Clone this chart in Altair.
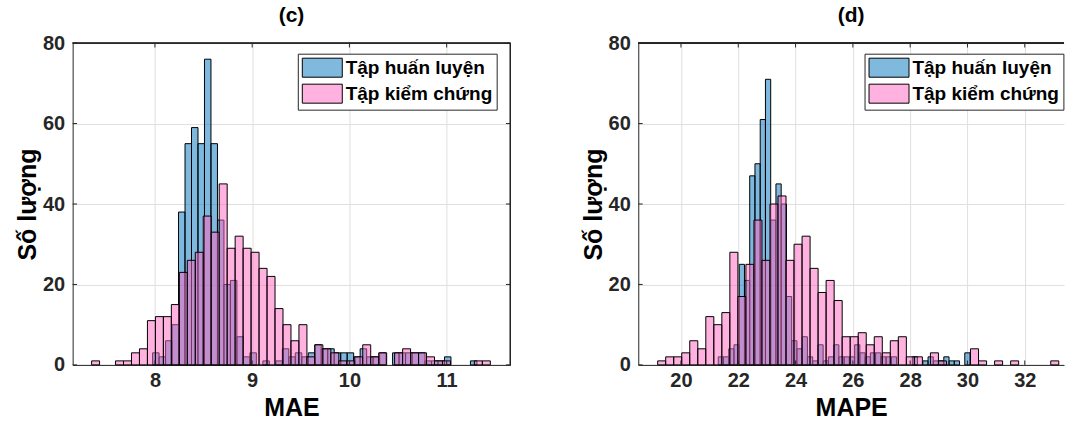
import altair as alt
import pandas as pd

# ---- MAE histograms (50 bins each) ----
mae_train_start = 7.976
mae_train_width = 0.0667
mae_train_counts = [3, 2, 6, 10, 38, 55, 59, 55, 76, 55,
                    36, 20, 21, 7, 2, 3, 0, 1, 0, 1,
                    4, 2, 3, 2, 3, 5, 4, 4, 3, 3,
                    3, 2, 4, 2, 2, 3, 0, 3, 3, 3,
                    3, 3, 1, 1, 1, 2, 0, 0, 0, 1]

mae_test_start = 7.349
mae_test_width = 0.082
mae_test_counts = [1, 0, 0, 1, 1, 3, 4, 11, 12, 12,
                   15, 23, 26, 28, 37, 33, 45, 29, 32, 29,
                   28, 24, 22, 14, 10, 6, 10, 2, 5, 4,
                   3, 1, 1, 2, 5, 2, 3, 0, 3, 4,
                   3, 3, 2, 1, 1, 0, 0, 0, 1, 1]

# ---- MAPE histograms ----
mape_train_start = 21.301
mape_train_width = 0.1831
mape_train_counts = [2, 2, 4, 5, 25, 21, 47, 50, 61, 71,
                     36, 45, 40, 17, 6, 4, 7, 2, 1, 5,
                     1, 2, 5, 2, 2, 2, 5, 3, 2, 3,
                     3, 2, 2, 2, 0, 0, 0, 2, 0, 1,
                     2, 1, 1, 2, 1, 1, 0, 3]

mape_test_start = 19.187
mape_test_width = 0.28
mape_test_counts = [1, 2, 2, 3, 6, 4, 12, 10, 13, 28,
                    17, 25, 36, 26, 40, 42, 26, 30, 32, 24,
                    18, 21, 16, 7, 7, 8, 5, 7, 3, 6,
                    7, 2, 2, 0, 3, 1, 0, 0, 0, 4,
                    1, 0, 1, 0, 1, 0, 0, 0, 0, 1]

series_names = ["Tập huấn luyện", "Tập kiểm chứng"]
# face colours (drawn at 50 % alpha) and the same colours flattened on white
series_colors = ["#0072BD", "#FF65C0"]
legend_colors = ["#80B9DE", "#FFB2E0"]

y_ticks = [0, 20, 40, 60, 80]
mae_ticks = [8, 9, 10, 11]
mape_ticks = [20, 22, 24, 26, 28, 30, 32]

FONT = "Liberation Sans"
EDGE = "#262626"
PLOT_H = 322
TICK_LEN = 4.4


def bins_frame(start, width, counts, name):
    rows = []
    for i, c in enumerate(counts):
        if c <= 0:
            continue
        lo = start + i * width
        rows.append({"x0": lo, "x1": lo + width, "count": c, "series": name})
    return pd.DataFrame(rows)


def panel(train, test, domain, ticks, xtitle, title, width, legend_x, right_edge):
    xscale = alt.Scale(domain=domain, nice=False, zero=False)
    yscale = alt.Scale(domain=[0, 80], nice=False)
    fill_scale = alt.Scale(domain=series_names, range=series_colors)

    x_enc = alt.X("x0:Q", scale=xscale,
                  axis=alt.Axis(values=ticks, title=xtitle, format="d"))
    y_enc = alt.Y("count:Q", scale=yscale,
                  axis=alt.Axis(values=y_ticks, title="Số lượng"))

    legend = alt.Legend(
        title=None, orient="none", legendX=legend_x, legendY=10.6,
        symbolType="M-2.105,-1H2.105V1H-2.105Z", symbolSize=361,
        symbolOffset=10.5, symbolStrokeColor="black", symbolStrokeWidth=1,
        labelFont=FONT, labelFontSize=19, labelFontWeight="bold",
        labelColor="black", labelOffset=13.4, labelLimit=400,
        rowPadding=2, padding=4, fillColor="white",
        strokeColor=EDGE, cornerRadius=0,
    )

    train_bars = alt.Chart(train).mark_rect(
        stroke="black", strokeWidth=1, fillOpacity=0.5
    ).encode(
        x=x_enc, x2="x1:Q", y=y_enc, y2=alt.datum(0),
        fill=alt.Fill("series:N", scale=fill_scale, legend=None),
    )
    test_bars = alt.Chart(test).mark_rect(
        stroke="black", strokeWidth=1, fillOpacity=0.5
    ).encode(
        x="x0:Q", x2="x1:Q", y="count:Q", y2=alt.datum(0),
        fill=alt.Fill("series:N", scale=fill_scale, legend=None),
    )

    # legend entries only: zero-size rects carrying the flattened colours
    key = alt.Chart(pd.DataFrame({"series": series_names})).mark_rect(
        strokeWidth=0
    ).encode(
        x=alt.value(0), x2=alt.value(0), y=alt.value(0), y2=alt.value(0),
        fill=alt.Fill("series:N",
                      scale=alt.Scale(domain=series_names, range=legend_colors),
                      legend=legend),
    )

    xt = pd.DataFrame({"v": ticks})
    yt = pd.DataFrame({"v": y_ticks})
    tick_bottom = alt.Chart(xt).mark_rule(color=EDGE).encode(
        x="v:Q", y=alt.value(PLOT_H), y2=alt.value(PLOT_H - TICK_LEN))
    tick_top = alt.Chart(xt).mark_rule(color=EDGE).encode(
        x="v:Q", y=alt.value(0), y2=alt.value(TICK_LEN))
    tick_left = alt.Chart(yt).mark_rule(color=EDGE).encode(
        y="v:Q", x=alt.value(0), x2=alt.value(TICK_LEN))
    top_line = alt.Chart(xt).mark_rule(color=EDGE).encode(
        x=alt.value(0), x2=alt.value(width), y=alt.value(0))

    layers = [train_bars, test_bars, tick_bottom, tick_top, tick_left, top_line]
    if right_edge:
        tick_right = alt.Chart(yt).mark_rule(color=EDGE).encode(
            y="v:Q", x=alt.value(width), x2=alt.value(width - TICK_LEN))
        right_line = alt.Chart(yt).mark_rule(color=EDGE).encode(
            x=alt.value(width), y=alt.value(0), y2=alt.value(PLOT_H))
        layers += [tick_right, right_line]
    layers.append(key)

    return alt.layer(*layers).resolve_scale(fill="independent").properties(
        width=width, height=PLOT_H,
        title=alt.TitleParams(title, fontSize=21, font=FONT, fontWeight="bold",
                              color="black", offset=7),
    )


mae_panel = panel(
    bins_frame(mae_train_start, mae_train_width, mae_train_counts, series_names[0]),
    bins_frame(mae_test_start, mae_test_width, mae_test_counts, series_names[1]),
    [7.154, 11.655], mae_ticks, "MAE", "(c)", 438, 225.3, True,
)
mape_panel = panel(
    bins_frame(mape_train_start, mape_train_width, mape_train_counts, series_names[0]),
    bins_frame(mape_test_start, mape_test_width, mape_test_counts, series_names[1]),
    [18.51, 33.37], mape_ticks, "MAPE", "(d)", 426, 226.4, False,
)

chart = alt.hconcat(mae_panel, mape_panel, spacing=128, bounds="flush").resolve_scale(
    fill="independent"
).resolve_legend(fill="independent").properties(
    padding={"left": 14.7, "top": 5, "right": 0, "bottom": 0},
).configure_view(stroke=None).configure_axis(
    labelFont=FONT, labelFontSize=20, labelFontWeight="bold", labelColor="#262626",
    titleFont=FONT, titleFontSize=25, titleFontWeight="bold", titleColor="black",
    grid=True, gridColor="#dfdfdf", gridWidth=1,
    domain=True, domainColor=EDGE, domainWidth=1, ticks=False,
).configure_axisX(labelPadding=6, titlePadding=5).configure_axisY(
    labelPadding=8, titlePadding=2
)

chart.save("out.html", embed_options={"renderer": "svg", "actions": False})
